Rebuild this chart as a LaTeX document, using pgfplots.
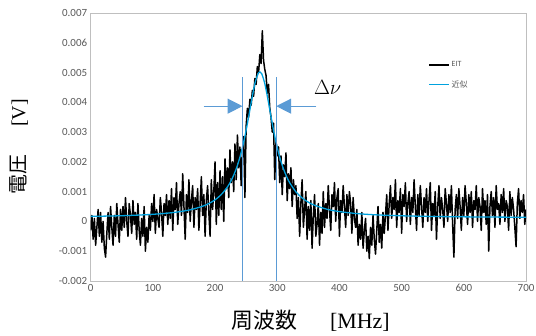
\documentclass[border=0pt]{standalone}
\usepackage{pgfplots}
\pgfplotsset{compat=1.18}
\usepackage{fontspec}
\setmainfont{Carlito}
\newfontfamily\cjk{Noto Sans CJK JP}
\newfontfamily\serifen{Liberation Serif}
\usetikzlibrary{arrows.meta}
\definecolor{fitblue}{RGB}{0,162,222}
\definecolor{annblue}{RGB}{91,155,213}
\definecolor{txtgray}{RGB}{89,89,89}
\definecolor{axgray}{RGB}{191,191,191}
\begin{document}
\begin{tikzpicture}
\path[use as bounding box] (-91pt,-55pt) rectangle (447pt,282pt);
\begin{axis}[
  scale only axis, width=437pt, height=269pt,
  xmin=0, xmax=700, ymin=-0.002, ymax=0.007,
  xtick={0,100,...,700},
  ytick={-0.002,-0.001,0,0.001,0.002,0.003,0.004,0.005,0.006,0.007},
  scaled y ticks=false,
  yticklabel style={/pgf/number format/fixed,/pgf/number format/precision=3},
  /pgf/number format/assume math mode=true,
  major tick length=0pt,
  tick label style={font=\fontsize{11}{13}\selectfont, text=txtgray},
  axis line style={axgray, line width=0.8pt},
  xlabel={{\cjk 周波数}\hspace{1.5em}{\serifen [MHz]}},
  xlabel style={at={(axis description cs:0.505,-0.148)}, anchor=center, font=\fontsize{22}{26}\selectfont},
  ylabel={{\cjk 電圧}\hspace{1.4em}{\serifen [V]}},
  ylabel style={at={(axis description cs:-0.165,0.5)}, anchor=center, font=\fontsize{20}{24}\selectfont},
  legend style={draw=none, fill=none, at={(0.775,0.826)}, anchor=north west,
    font=\fontsize{8}{10}\selectfont, text=txtgray, row sep=8pt, inner sep=0pt},
  legend cell align=left,
  legend image code/.code={\draw[#1] (0pt,0pt) -- (20pt,0pt);},
]
\addplot[black, line width=1.5pt, line join=round] table[row sep=\\, x expr=\coordindex*2, y expr=\thisrow{y}/1000] {
y\\
-0.3\\ 0.2\\ -0.6\\ 0.1\\ -0.8\\ -0.2\\ 0.4\\ -0.5\\ 0.3\\ -0.7\\ 0.0\\
-0.9\\ -1.2\\ -0.4\\ 0.3\\ -0.6\\ 0.5\\ -0.2\\ -0.8\\ 0.2\\ -0.5\\ 0.6\\ -0.1\\ -0.7\\ 0.4\\ -0.3\\
0.5\\ -0.2\\ 0.8\\ 0.0\\ -0.5\\ 0.6\\ 0.2\\ -0.4\\ 0.7\\ -0.1\\
0.3\\ -0.6\\ 0.6\\ -0.3\\ -0.8\\ 0.1\\ -0.5\\ 0.5\\ -1.0\\ -0.2\\ -0.7\\ 0.2\\
-0.3\\ 0.6\\ 0.0\\ 0.9\\ -0.4\\ 0.4\\ 0.1\\ -0.2\\ 0.8\\ 0.3\\ -0.5\\ 0.6\\ 0.2\\ 0.9\\ -0.1\\
0.7\\ 0.1\\ 1.1\\ -0.3\\ 0.8\\ 0.4\\ 1.3\\ -0.1\\ 0.6\\ 1.0\\ 0.2\\ 1.6\\ 0.5\\ -0.6\\ 0.9\\ 0.3\\ 1.4\\ 0.0\\ 0.7\\ 1.2\\ -0.2\\ 0.8\\ 0.4\\
1.1\\ -0.3\\ 0.6\\ 1.5\\ 0.2\\ 0.9\\ -0.5\\ 0.7\\ 1.2\\ 0.3\\
-0.5\\ 1.4\\ 0.4\\ 1.0\\ 2.0\\ -0.1\\ 1.3\\ 0.2\\ 1.7\\ 0.4\\ 1.5\\ 0.0\\ 2.1\\ 1.1\\ 1.8\\ 0.8\\ 2.4\\ 1.3\\ 2.0\\ 1.0\\
2.6\\ 1.4\\ 2.9\\ 1.8\\ 2.5\\ 1.2\\ 2.3\\ 2.85\\ 0.8\\
3.2\\ 3.8\\ 3.5\\ 4.1\\ 3.9\\ 4.4\\ 4.2\\ 4.8\\ 4.6\\ 5.2\\ 5.0\\ 5.6\\
5.3\\ 6.4\\ 5.4\\ 5.1\\
4.9\\ 4.3\\ 4.6\\ 3.8\\ 3.5\\
3.0\\ 3.3\\ 1.4\\ 2.7\\ 2.2\\
2.5\\ 1.3\\ 2.2\\ 0.9\\ 1.9\\ 1.5\\ 2.3\\ 0.7\\ 1.6\\ 1.1\\ 1.8\\ 0.5\\ 1.4\\ 0.9\\
1.2\\ 0.1\\ 0.8\\ -0.5\\ 0.6\\ 1.4\\ -0.2\\ 0.4\\ 1.0\\ -0.6\\ 0.5\\
-0.3\\ 0.7\\ -0.9\\ 0.2\\ 0.9\\ -0.5\\ -0.1\\ 0.6\\ -0.8\\ 0.3\\ -0.4\\ 1.0\\ -0.2\\
0.6\\ 0.1\\ 1.2\\ 0.4\\ -0.3\\ 0.9\\ 0.5\\ 1.3\\ 0.0\\ 0.8\\ 1.1\\ -0.5\\ 0.7\\ 0.3\\ 1.2\\ 0.5\\ -0.2\\ 0.9\\ 0.2\\ 1.0\\ 0.6\\ -0.4\\ 0.8\\ 0.1\\
-0.2\\ 0.4\\ -0.8\\ -0.1\\ -0.6\\ 0.3\\ -0.9\\ -0.3\\ 0.1\\ -1.0\\ -0.5\\ -1.25\\ -0.2\\ -0.8\\ 0.2\\ -0.6\\ -1.1\\ -0.3\\ 0.5\\ -0.7\\ -0.1\\ -0.9\\ 0.3\\ -0.4\\
0.2\\ 0.9\\ -0.3\\ 0.6\\ 1.2\\ 0.1\\ 0.8\\ 0.4\\ 1.4\\ -0.2\\ 0.7\\ 0.3\\ 1.1\\ -0.4\\ 0.9\\ 0.5\\ 1.3\\ 0.0\\ 0.6\\ 1.0\\ -0.1\\ 0.8\\ 0.3\\ 1.4\\ 0.5\\ -0.3\\
0.9\\ 0.2\\ 1.2\\ 0.5\\ -0.2\\ 0.8\\ 0.3\\ 1.1\\ 0.0\\ 0.7\\ 1.3\\ -0.3\\ 0.6\\ 0.2\\ 1.0\\
-0.6\\
0.5\\ 1.2\\ 0.1\\ 0.8\\ 0.4\\ -0.2\\ 1.1\\ 0.6\\ 0.0\\ 0.9\\ 0.3\\ 1.2\\ -0.1\\
-1.2\\
0.4\\ 0.9\\ 0.1\\ 1.1\\ 0.5\\ -0.3\\ 0.8\\ 0.2\\ 1.2\\ 0.6\\ -0.1\\ 0.9\\ 0.3\\ 1.0\\ -0.2\\ 0.7\\ 0.4\\ 1.2\\ 0.0\\ 0.8\\ 0.5\\ -0.3\\ 1.1\\ 0.3\\ 0.7\\ -0.1\\ 0.9\\
-1.0\\
0.5\\ 1.0\\ 0.2\\ 0.8\\ -0.2\\ 1.2\\ 0.4\\ 0.6\\ -0.1\\ 0.9\\ 0.3\\ 1.1\\ 0.0\\ 0.7\\ 0.5\\ -0.3\\ 1.0\\ 0.2\\ 0.8\\ 0.4\\ -0.2\\
-0.85\\
0.6\\ 1.1\\ 0.1\\ 0.7\\ 0.3\\ 0.9\\ -0.1\\ 0.4\\
};
\addlegendentry{EIT}
\addplot[fitblue, line width=1.3pt, smooth] table[row sep=\\, y expr=\thisrow{y}/1000] {
x y\\
0 0.168\\ 20 0.176\\ 40 0.185\\ 60 0.198\\ 80 0.215\\ 100 0.238\\ 120 0.270\\ 140 0.317\\
160 0.389\\ 180 0.509\\ 190 0.599\\ 200 0.724\\ 210 0.901\\ 220 1.161\\ 225 1.336\\ 230 1.553\\
235 1.823\\ 240 2.158\\ 245 2.570\\ 250 3.065\\ 255 3.629\\ 260 4.212\\ 265 4.711\\ 270 4.993\\
272 5.020\\ 275 4.960\\ 280 4.625\\ 285 4.098\\ 290 3.512\\ 295 2.959\\ 300 2.481\\ 305 2.085\\
310 1.764\\ 315 1.506\\ 320 1.298\\ 330 0.993\\ 340 0.787\\ 350 0.644\\ 360 0.542\\ 380 0.408\\
400 0.329\\ 430 0.259\\ 460 0.219\\ 500 0.188\\ 550 0.166\\ 600 0.153\\ 650 0.145\\ 700 0.139\\
};
\addlegendentry{{\cjk 近似}}
\addplot[annblue, line width=0.9pt, forget plot] coordinates {(244.5,-0.002) (244.5,0.00486)};
\addplot[annblue, line width=0.9pt, forget plot] coordinates {(298,-0.002) (298,0.00486)};
\draw[annblue, line width=1.2pt, -{Triangle[length=15pt,width=15pt]}] (axis cs:181.6,0.00387) -- (axis cs:244.2,0.00387);
\draw[annblue, line width=1.2pt, -{Triangle[length=15pt,width=15pt]}] (axis cs:363,0.00387) -- (axis cs:298.3,0.00387);
\node[font=\fontsize{21}{24}\selectfont, anchor=center] at (axis cs:381,0.0045) {$\Delta\nu$};
\end{axis}
\end{tikzpicture}
\end{document}
